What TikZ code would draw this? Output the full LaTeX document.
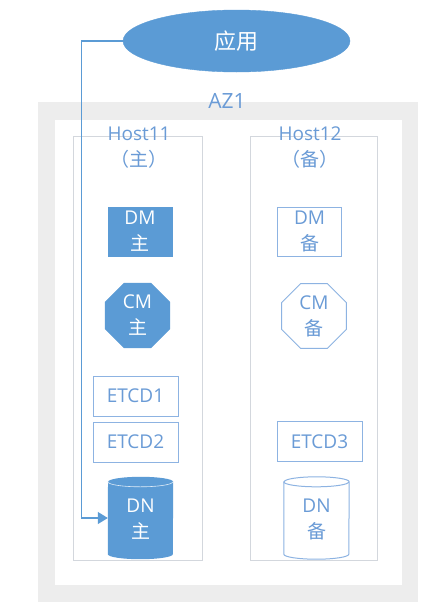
\documentclass[tikz,border=0pt]{standalone}
\usepackage{fontspec}
\setmainfont{Open Sans}
\newfontfamily\cjk{Noto Sans CJK SC}
\usetikzlibrary{shapes.geometric,arrows.meta}
\definecolor{blue1}{HTML}{5B9BD5}
\definecolor{txtblue}{HTML}{6A9BD6}
\definecolor{hostgray}{HTML}{D3D7DD}
\definecolor{framegray}{HTML}{EDEDED}
\definecolor{boxline}{HTML}{8DB3E2}
\begin{document}
\begin{tikzpicture}[x=1pt,y=-1pt,
  lbl/.style={font=\fontsize{19}{26}\selectfont, align=center, inner sep=0pt},
  solidbox/.style={rectangle, fill=blue1, draw=blue1, text=white, lbl, minimum width=64pt, minimum height=49pt},
  hollowbox/.style={rectangle, fill=white, draw=boxline, line width=1pt, text=txtblue, lbl, minimum width=64pt, minimum height=49pt},
  solidoct/.style={regular polygon, regular polygon sides=8, minimum size=70pt, fill=blue1, draw=blue1, text=white, lbl},
  hollowoct/.style={regular polygon, regular polygon sides=8, minimum size=70pt, fill=white, draw=boxline, line width=1pt, text=txtblue, lbl},
  etcdbox/.style={rectangle, draw=boxline, line width=1pt, text=txtblue, font=\fontsize{19}{22}\selectfont, minimum width=85pt, minimum height=40pt, inner sep=0pt},
  hostbox/.style={rectangle, draw=hostgray, line width=1pt},
  hosttitle/.style={text=txtblue, lbl},
  cylnode/.style={rectangle, minimum width=65pt, minimum height=62pt, lbl},
  conn/.style={draw=blue1, line width=1.1pt}
]
\useasboundingbox (0,0) rectangle (443,616);
% AZ frame
\fill[framegray] (38,102) rectangle (418,602);
\fill[white] (55,120) rectangle (402,585);
\node[text=txtblue, font=\fontsize{21}{24}\selectfont, inner sep=0pt] (az) at (227,101) {AZ1};

% hosts
\node[hostbox, minimum width=129pt, minimum height=424pt] (h11) at (137.5,348) {};
\node[hostbox, minimum width=127pt, minimum height=424pt] (h12) at (314,348) {};
\node[hosttitle] (t11) at (139,148) {Host11\\{\cjk （主）}};
\node[hosttitle] (t12) at (310,148) {Host12\\{\cjk （备）}};

% DM
\node[solidbox] (dm1) at (140,231.5) {DM\\{\cjk 主}};
\node[hollowbox] (dm2) at (309.5,231.5) {DM\\{\cjk 备}};

% CM
\node[solidoct] (cm1) at (137.5,315.5) {CM\\{\cjk 主}};
\node[hollowoct] (cm2) at (314,316) {CM\\{\cjk 备}};

% ETCD
\node[etcdbox] (e1) at (135.5,396) {ETCD1};
\node[etcdbox] (e2) at (135.5,442) {ETCD2};
\node[etcdbox] (e3) at (319.5,441.5) {ETCD3};

% DN cylinders
\node[cylnode] (dn1) at (140.5,518) {};
\fill[blue1] (dn1.north west) ++(0,5) -- ([yshift=-5pt]dn1.south west)
  arc[start angle=180, end angle=360, x radius=32.5pt, y radius=5pt]
  -- ([yshift=5pt]dn1.north east)
  arc[start angle=0, end angle=180, x radius=32.5pt, y radius=5pt] -- cycle;
\draw[white!80!blue1, line width=0.6pt] ([yshift=5pt]dn1.north west)
  arc[start angle=180, end angle=360, x radius=32.5pt, y radius=5pt];
\node[lbl, text=white] (dn1t) at ([yshift=-1pt]dn1.center) {DN\\{\cjk 主}};

\node[cylnode] (dn2) at (316.5,518) {};
\filldraw[fill=white, draw=boxline, line width=1pt] ([yshift=5pt]dn2.north west) -- ([yshift=-5pt]dn2.south west)
  arc[start angle=180, end angle=360, x radius=32.5pt, y radius=5pt]
  -- ([yshift=5pt]dn2.north east)
  arc[start angle=0, end angle=180, x radius=32.5pt, y radius=5pt] -- cycle;
\draw[boxline, line width=1pt] ([yshift=5pt]dn2.north west)
  arc[start angle=180, end angle=360, x radius=32.5pt, y radius=5pt];
\node[lbl, text=txtblue] (dn2t) at ([yshift=-1pt]dn2.center) {DN\\{\cjk 备}};

% application ellipse
\node[ellipse, fill=blue1, draw=blue1, minimum width=227pt, minimum height=62pt, inner sep=0pt, text=white, font=\cjk\fontsize{22}{24}\selectfont] (app) at (236.5,41) {应用};

% connector
\draw[conn, -{Triangle[length=10pt,width=12pt]}] (app.west) -- ++(-41,0) |- (dn1.west);
\end{tikzpicture}
\end{document}
